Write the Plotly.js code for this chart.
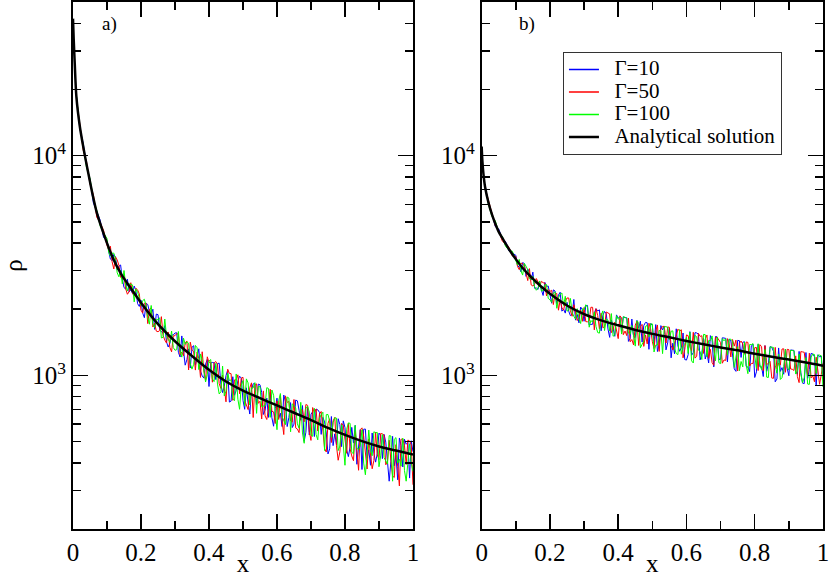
<!DOCTYPE html>
<html>
<head>
<meta charset="utf-8">
<script src="https://cdn.plot.ly/plotly-3.0.1.min.js"></script>
<style>
  body { margin: 0; background: #fff; }
  #chart { width: 830px; height: 577px; }
</style>
</head>
<body>
<div id="chart"></div>
<script>
// sample positions of the simulated profiles (coarse grid + in-between samples)
var xs = [0.01, 0.02, 0.03, 0.04, 0.05, 0.06, 0.07, 0.08, 0.09, 0.10,
  0.11, 0.12, 0.13, 0.14, 0.15, 0.16, 0.17, 0.18, 0.19, 0.20,
  0.21, 0.22, 0.23, 0.24, 0.25, 0.26, 0.27, 0.28, 0.29, 0.30,
  0.31, 0.32, 0.33, 0.34, 0.35, 0.36, 0.37, 0.38, 0.39, 0.40,
  0.41, 0.42, 0.43, 0.44, 0.45, 0.46, 0.47, 0.48, 0.49, 0.50,
  0.51, 0.52, 0.53, 0.54, 0.55, 0.56, 0.57, 0.58, 0.59, 0.60,
  0.61, 0.62, 0.63, 0.64, 0.65, 0.66, 0.67, 0.68, 0.69, 0.70,
  0.71, 0.72, 0.73, 0.74, 0.75, 0.76, 0.77, 0.78, 0.79, 0.80,
  0.81, 0.82, 0.83, 0.84, 0.85, 0.86, 0.87, 0.88, 0.89, 0.90,
  0.91, 0.92, 0.93, 0.94, 0.95, 0.96, 0.97, 0.98, 0.99, 1.00];
var xsMid = [0.105, 0.115, 0.125, 0.135, 0.145, 0.155, 0.165, 0.175, 0.185, 0.195,
  0.205, 0.215, 0.225, 0.235, 0.245, 0.255, 0.265, 0.275, 0.285, 0.295,
  0.305, 0.315, 0.325, 0.335, 0.345, 0.355, 0.365, 0.375, 0.385, 0.395,
  0.405, 0.415, 0.425, 0.435, 0.445, 0.455, 0.465, 0.475, 0.485, 0.495,
  0.505, 0.515, 0.525, 0.535, 0.545, 0.555, 0.565, 0.575, 0.585, 0.595,
  0.605, 0.615, 0.625, 0.635, 0.645, 0.655, 0.665, 0.675, 0.685, 0.695,
  0.705, 0.715, 0.725, 0.735, 0.745, 0.755, 0.765, 0.775, 0.785, 0.795,
  0.805, 0.815, 0.825, 0.835, 0.845, 0.855, 0.865, 0.875, 0.885, 0.895,
  0.905, 0.915, 0.925, 0.935, 0.945, 0.955, 0.965, 0.975, 0.985, 0.995];

// panel a)
var blueA = [18720, 13270, 11400, 8990, 7780, 6090, 5570, 5080, 4240, 4100,
  3380, 3550, 3030, 3180, 2510, 2740, 2450, 2550, 2120, 2200,
  1830, 2100, 1890, 1620, 1890, 1580, 1685, 1346, 1524, 1559,
  1274, 1512, 1113, 1320, 1343, 1114, 1321, 995, 1125, 890,
  1145, 957, 1137, 835, 998, 756, 986, 855, 992, 770,
  878, 667, 916, 736, 906, 664, 788, 836, 587, 788,
  673, 814, 585, 752, 600, 766, 625, 501, 717, 666,
  527, 697, 539, 614, 439, 650, 542, 635, 474, 579,
  427, 580, 592, 467, 373, 570, 459, 547, 403, 546,
  418, 497, 330, 528, 433, 519, 383, 486, 341, 450];
var blueAMid = [3670, 3330, 3460, 3140, 2750, 2470, 2400, 2360, 2430, 2060,
  1920, 2130, 1940, 2000, 1900, 1610, 1555, 1420, 1400, 1528,
  1563, 1212, 1254, 1178, 1081, 1365, 1207, 1047, 972, 1183,
  1139, 1140, 1131, 911, 891, 1058, 764, 812, 945, 972,
  701, 749, 860, 919, 913, 837, 693, 644, 642, 707,
  637, 585, 758, 644, 579, 772, 694, 729, 551, 536,
  683, 703, 679, 644, 547, 463, 479, 484, 597, 621,
  458, 473, 492, 394, 566, 569, 419, 390, 443, 440,
  534, 539, 418, 406, 388, 335, 480, 512, 495, 504];
var redA = [18280, 13930, 10600, 9320, 7420, 6630, 5240, 4960, 4560, 3900,
  3870, 3050, 3350, 2790, 2840, 2340, 2640, 2300, 2450, 1980,
  2130, 1720, 2030, 1730, 1580, 1850, 1447, 1576, 1280, 1516,
  1540, 1276, 1404, 1058, 1303, 1057, 1192, 1281, 950, 1145,
  931, 1156, 917, 1004, 758, 1021, 770, 954, 825, 980,
  731, 878, 643, 915, 763, 850, 630, 865, 682, 765,
  811, 538, 753, 620, 777, 570, 698, 615, 731, 506,
  675, 558, 685, 464, 605, 495, 644, 411, 605, 502,
  605, 430, 556, 370, 577, 448, 514, 376, 552, 414,
  542, 392, 507, 349, 484, 314, 514, 393, 503, 318];
var redAMid = [3720, 3290, 3460, 3170, 2750, 2480, 2400, 2360, 2490, 2350,
  1920, 2130, 2000, 1660, 1590, 1600, 1523, 1404, 1339, 1513,
  1549, 1239, 1228, 1434, 1416, 1280, 1277, 979, 1050, 1215,
  1150, 1140, 1121, 872, 882, 1067, 1018, 954, 1006, 972,
  769, 699, 925, 903, 746, 633, 654, 705, 686, 604,
  630, 621, 807, 761, 613, 577, 549, 697, 737, 555,
  714, 703, 667, 544, 448, 635, 620, 478, 449, 594,
  442, 463, 409, 435, 566, 529, 375, 425, 410, 435,
  544, 535, 405, 410, 343, 385, 512, 481, 508, 482];
var greenA = [18940, 13440, 11130, 8770, 7870, 6320, 5630, 4780, 4450, 4190,
  3490, 3600, 2930, 3010, 3000, 2420, 2600, 2160, 2390, 2080,
  2220, 1830, 2080, 1650, 1790, 1480, 1805, 1461, 1591, 1301,
  1584, 1211, 1383, 1401, 1068, 1369, 1063, 1174, 933, 1162,
  964, 1134, 823, 1102, 848, 947, 785, 1015, 701, 947,
  964, 733, 877, 672, 889, 726, 879, 644, 812, 566,
  827, 617, 797, 554, 730, 602, 754, 491, 725, 536,
  708, 509, 663, 455, 664, 523, 641, 455, 596, 390,
  608, 447, 592, 459, 566, 353, 564, 431, 548, 384,
  538, 407, 532, 330, 521, 415, 518, 330, 489, 366];
var greenAMid = [3630, 3600, 3360, 2810, 2610, 2580, 2610, 2580, 2470, 2260,
  2190, 2070, 1710, 1700, 1800, 1830, 1490, 1513, 1415, 1339,
  1309, 1294, 1478, 1421, 1130, 1123, 1336, 1252, 1039, 1011,
  1181, 937, 913, 843, 806, 1021, 954, 767, 779, 903,
  727, 924, 876, 927, 889, 719, 731, 872, 858, 670,
  767, 650, 597, 789, 742, 711, 575, 547, 705, 681,
  528, 538, 637, 680, 663, 618, 609, 639, 477, 486,
  569, 605, 440, 466, 480, 399, 439, 454, 554, 550,
  430, 422, 395, 530, 512, 399, 386, 369, 415, 399];

// panel b)
var blueB = [7340, 6040, 5450, 4750, 4640, 4190, 4060, 3680, 3600, 3520,
  3100, 3260, 2820, 2920, 2950, 2500, 2660, 2310, 2540, 2290,
  2450, 2120, 2390, 2000, 2150, 1870, 2216, 1894, 2046, 1763,
  2081, 1706, 1920, 1964, 1595, 1954, 1627, 1789, 1506, 1822,
  1586, 1829, 1428, 1804, 1484, 1637, 1418, 1743, 1314, 1686,
  1703, 1384, 1610, 1306, 1645, 1402, 1629, 1287, 1559, 1174,
  1582, 1268, 1560, 1177, 1475, 1269, 1517, 1093, 1497, 1183,
  1479, 1152, 1436, 1070, 1443, 1207, 1423, 1091, 1363, 978,
  1384, 1094, 1366, 1128, 1341, 935, 1333, 1085, 1318, 996,
  1302, 1045, 1286, 922, 1271, 1063, 1253, 898, 1215, 963];
var blueBMid = [3170, 2960, 3230, 3050, 2720, 2490, 2460, 2450, 2650, 2550,
  2130, 2420, 2320, 1960, 1920, 1960, 1899, 1784, 1734, 1992,
  2077, 1694, 1709, 2011, 1987, 1876, 1907, 1489, 1627, 1885,
  1849, 1848, 1830, 1470, 1505, 1779, 1765, 1686, 1735, 1722,
  1401, 1284, 1685, 1672, 1406, 1202, 1253, 1360, 1336, 1181,
  1244, 1235, 1565, 1540, 1251, 1187, 1139, 1457, 1503, 1183,
  1483, 1474, 1465, 1207, 1043, 1439, 1415, 1099, 1040, 1386,
  1038, 1094, 988, 1043, 1353, 1285, 963, 1042, 1012, 1077,
  1305, 1299, 1011, 1029, 918, 970, 1258, 1216, 1241, 1221];
var redB = [7130, 6220, 5510, 4800, 4550, 4100, 3940, 3830, 3490, 3480,
  3030, 3230, 2890, 3060, 2550, 2760, 2540, 2640, 2300, 2410,
  2100, 2360, 2210, 1980, 2250, 1970, 2096, 1776, 1976, 2037,
  1753, 2042, 1611, 1870, 1919, 1668, 1931, 1565, 1749, 1470,
  1825, 1592, 1822, 1456, 1694, 1368, 1706, 1529, 1728, 1424,
  1594, 1285, 1669, 1403, 1654, 1306, 1506, 1590, 1202, 1528,
  1351, 1571, 1222, 1504, 1259, 1527, 1314, 1111, 1489, 1410,
  1176, 1470, 1213, 1359, 1047, 1433, 1249, 1413, 1133, 1337,
  1052, 1352, 1366, 1144, 972, 1341, 1139, 1318, 1033, 1310,
  1066, 1227, 927, 1279, 1100, 1262, 997, 1210, 911, 1136];
var redBMid = [3130, 3240, 3140, 2700, 2580, 2600, 2670, 2680, 2630, 2460,
  2440, 2350, 1980, 2030, 2170, 2250, 1858, 1923, 1831, 1762,
  1756, 1769, 2040, 2011, 1629, 1646, 1943, 1904, 1610, 1596,
  1866, 1532, 1517, 1421, 1375, 1763, 1670, 1355, 1391, 1629,
  1324, 1696, 1624, 1672, 1661, 1365, 1400, 1623, 1612, 1310,
  1516, 1292, 1198, 1554, 1515, 1463, 1194, 1144, 1489, 1452,
  1136, 1169, 1399, 1456, 1447, 1400, 1389, 1419, 1103, 1134,
  1339, 1380, 1050, 1117, 1158, 970, 1072, 1114, 1321, 1314,
  1070, 1053, 988, 1283, 1274, 1004, 974, 935, 1051, 1010];
var greenB = [7270, 5980, 5290, 5050, 4460, 4310, 3860, 3710, 3670, 3310,
  3370, 2860, 3140, 2750, 2820, 2440, 2690, 2430, 2590, 2210,
  2370, 2020, 2340, 2080, 1960, 2240, 1856, 2012, 1722, 1991,
  2046, 1778, 1944, 1566, 1873, 1600, 1785, 1911, 1528, 1800,
  1542, 1839, 1556, 1688, 1359, 1741, 1398, 1672, 1496, 1715,
  1374, 1602, 1256, 1666, 1451, 1594, 1258, 1617, 1352, 1491,
  1573, 1139, 1496, 1286, 1537, 1215, 1438, 1305, 1490, 1131,
  1436, 1238, 1461, 1087, 1351, 1157, 1418, 1018, 1380, 1190,
  1393, 1062, 1311, 978, 1349, 1114, 1248, 977, 1314, 1057,
  1298, 1014, 1249, 927, 1205, 910, 1250, 1020, 1237, 886];
var greenBMid = [3180, 2990, 3230, 3020, 2730, 2530, 2500, 2420, 2580, 2240,
  2150, 2400, 2250, 2370, 2290, 1980, 1939, 1804, 1812, 2011,
  2096, 1657, 1746, 1667, 1557, 1965, 1803, 1593, 1507, 1868,
  1832, 1848, 1822, 1535, 1521, 1772, 1336, 1434, 1688, 1715,
  1278, 1375, 1594, 1665, 1655, 1588, 1327, 1243, 1249, 1382,
  1258, 1164, 1523, 1302, 1181, 1532, 1441, 1512, 1164, 1142,
  1470, 1468, 1460, 1430, 1226, 1050, 1093, 1112, 1382, 1395,
  1076, 1119, 1173, 982, 1348, 1340, 1023, 958, 1095, 1089,
  1300, 1294, 1046, 1017, 976, 913, 1212, 1245, 1236, 1228];

// analytical solution
var anaX = [0, 0.002, 0.005, 0.01, 0.02, 0.03, 0.04, 0.05, 0.06, 0.07, 0.08,
  0.10, 0.12, 0.14, 0.16, 0.18, 0.20, 0.25, 0.30, 0.35, 0.40, 0.45,
  0.50, 0.55, 0.60, 0.65, 0.70, 0.75, 0.80, 0.85, 0.90, 0.95, 1.00];
var anaA = [42000, 34000, 26500, 18500, 13600, 11000, 9100, 7600, 6400, 5500, 4900,
  4000, 3350, 2920, 2620, 2370, 2140, 1710, 1430, 1225, 1060, 938,
  852, 788, 730, 676, 626, 577, 536, 502, 475, 455, 436];
var anaB = [11000, 9500, 8300, 7200, 6100, 5400, 4900, 4500, 4230, 3980, 3750,
  3380, 3080, 2850, 2660, 2490, 2350, 2080, 1900, 1780, 1690, 1610,
  1545, 1490, 1435, 1385, 1340, 1300, 1255, 1215, 1180, 1145, 1107];

var names = ["\u0393=10", "\u0393=50", "\u0393=100", "Analytical solution"];
var colors = ["#0000ff", "#ff0000", "#00ff00", "#000000"];
var xTicks = [0, 0.2, 0.4, 0.6, 0.8, 1];
var xTickText = ["0", "0.2", "0.4", "0.6", "0.8", "1"];
var xMinor = [0.1, 0.3, 0.5, 0.7, 0.9];
var yTicks = [1000, 10000];
var yTickText = ["10<sup>3</sup>", "10<sup>4</sup>"];
var yMinor = [300, 400, 500, 600, 700, 800, 900, 2000, 3000, 4000, 5000,
  6000, 7000, 8000, 9000, 20000, 30000, 40000];

// put the coarse and in-between samples of one series in x order
function merge(ya, yb) {
  var pts = [];
  xs.forEach(function (x, i) { pts.push([x, ya[i]]); });
  xsMid.forEach(function (x, i) { pts.push([x, yb[i]]); });
  pts.sort(function (p, q) { return p[0] - q[0]; });
  return { x: pts.map(function (p) { return p[0]; }), y: pts.map(function (p) { return p[1]; }) };
}

function noisy(ya, yb, k, xa, yax) {
  var s = merge(ya, yb);
  return {
    x: s.x, y: s.y, name: names[k], type: "scatter", mode: "lines",
    xaxis: xa, yaxis: yax, showlegend: false,
    line: { color: colors[k], width: 1 }
  };
}
function exact(y, xa, yax) {
  return {
    x: anaX, y: y, name: names[3], type: "scatter", mode: "lines",
    xaxis: xa, yaxis: yax, showlegend: false,
    line: { color: "black", width: 2.5, shape: "spline", smoothing: 0.8 }
  };
}
// legend-only entries (no points), text drawn larger than the row spacing font
function key(k) {
  return {
    x: [null], y: [null], type: "scatter", mode: "lines", xaxis: "x2", yaxis: "y2",
    name: '<span style="font-size:21px">\u00a0\u00a0' + names[k] + '</span>',
    line: { color: colors[k], width: k === 3 ? 2.5 : 1.6 }
  };
}

var data = [
  noisy(blueA, blueAMid, 0, "x", "y"),
  noisy(redA, redAMid, 1, "x", "y"),
  noisy(greenA, greenAMid, 2, "x", "y"),
  exact(anaA, "x", "y"),
  noisy(blueB, blueBMid, 0, "x2", "y2"),
  noisy(redB, redBMid, 1, "x2", "y2"),
  noisy(greenB, greenBMid, 2, "x2", "y2"),
  exact(anaB, "x2", "y2"),
  key(0), key(1), key(2), key(3)
];

var serif = "Liberation Serif, Times New Roman, serif";
var common = {
  showline: true, linecolor: "black", linewidth: 2, mirror: "ticks",
  ticks: "inside", ticklen: 15, tickwidth: 1.5, tickcolor: "black",
  showgrid: false, zeroline: false,
  tickfont: { family: serif, size: 25, color: "black" }
};
function xAxis(domain, anchor) {
  return Object.assign({}, common, {
    domain: domain, anchor: anchor, range: [0, 1],
    tickmode: "array", tickvals: xTicks, ticktext: xTickText,
    minor: { tickmode: "array", tickvals: xMinor, ticks: "inside", ticklen: 8,
      tickwidth: 1.5, tickcolor: "black" },
    title: { text: "x", font: { family: serif, size: 25 }, standoff: 0 }
  });
}
function yAxis(anchor, title) {
  return Object.assign({}, common, {
    anchor: anchor, type: "log", range: [Math.log10(200), Math.log10(50000)],
    tickmode: "array", tickvals: yTicks, ticktext: yTickText,
    minor: { tickmode: "array", tickvals: yMinor, ticks: "inside", ticklen: 8,
      tickwidth: 1.5, tickcolor: "black" },
    title: { text: title, font: { family: serif, size: 25 } }
  });
}

var layout = {
  width: 830, height: 577,
  margin: { l: 73, r: 7, t: 2, b: 48 },
  paper_bgcolor: "white", plot_bgcolor: "white",
  font: { family: serif, color: "black" },
  hovermode: false,
  xaxis: xAxis([0, 0.4533], "y"),
  xaxis2: xAxis([0.5449, 1], "y2"),
  yaxis: yAxis("x", "\u03c1"),
  yaxis2: yAxis("x2", ""),
  legend: {
    x: 0.653, y: 0.905, xanchor: "left", yanchor: "top",
    bgcolor: "white", bordercolor: "#333", borderwidth: 1.2,
    font: { family: serif, size: 15 }
  },
  annotations: [
    { text: "a)", xref: "x", yref: "paper", x: 0.106, y: 0.958, xanchor: "center", yanchor: "middle",
      showarrow: false, font: { family: serif, size: 19 } },
    { text: "b)", xref: "x2", yref: "paper", x: 0.133, y: 0.958, xanchor: "center", yanchor: "middle",
      showarrow: false, font: { family: serif, size: 19 } }
  ]
};

Plotly.newPlot("chart", data, layout, { displayModeBar: false, staticPlot: true });
</script>
</body>
</html>
